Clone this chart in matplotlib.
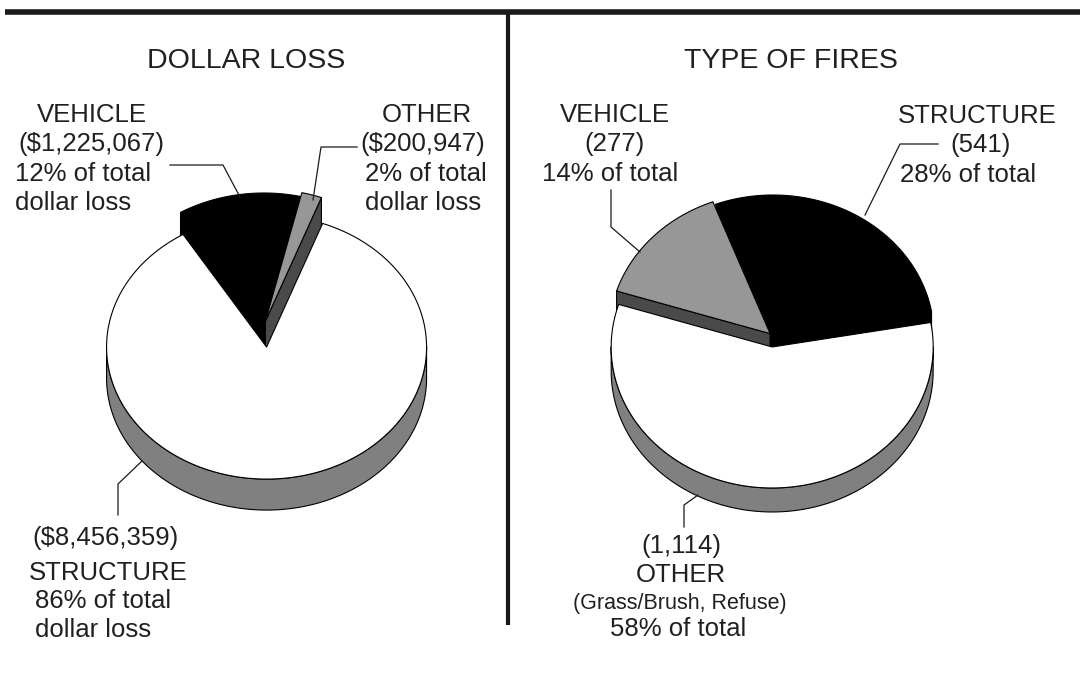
import numpy as np
import matplotlib
matplotlib.use("Agg")
import matplotlib.pyplot as plt
from matplotlib.patches import Polygon

plt.rcParams['font.family'] = ['Liberation Sans', 'DejaVu Sans']

# ---------------- data ----------------
categories = ["STRUCTURE", "VEHICLE", "OTHER"]
dollar_loss = [8456359, 1225067, 200947]
fire_counts = [541, 277, 1114]

TXT = "#231f20"

fig = plt.figure(figsize=(10.84, 6.85), dpi=100)
ax = fig.add_axes([0, 0, 1, 1])
ax.set_xlim(0, 1084)
ax.set_ylim(685, 0)
ax.axis("off")


def draw_pie3d(ax, values, order, tops, sides, start, cx, cy, rx, ry, depth, explode):
    vals = np.array([values[i] for i in order], dtype=float)
    fr = vals / vals.sum()
    bounds = start + 360.0 * np.concatenate([[0], np.cumsum(fr)])
    slices = []
    for k in range(len(vals)):
        a0, a1 = bounds[k], bounds[k + 1]
        mid = np.radians((a0 + a1) / 2)
        e = explode[k]
        ox, oy = e * rx * np.cos(mid), -e * ry * np.sin(mid)
        slices.append((np.sin(mid), k, a0, a1, ox, oy))
    slices.sort(key=lambda s: -s[0])
    z = 2
    for _, k, a0, a1, ox, oy in slices:
        Cx, Cy = cx + ox, cy + oy

        def pt(t, dz=0.0):
            r = np.radians(t)
            return (Cx + rx * np.cos(r), Cy - ry * np.sin(r) + dz)

        kw = dict(edgecolor="black", linewidth=0.8, joinstyle="round")
        # radial faces
        if np.cos(np.radians(a0)) > 1e-6:
            quad = [(Cx, Cy), pt(a0), pt(a0, depth), (Cx, Cy + depth)]
            ax.add_patch(Polygon(quad, closed=True, facecolor=sides[k], zorder=z, **kw))
        if np.cos(np.radians(a1)) < -1e-6:
            quad = [(Cx, Cy), pt(a1), pt(a1, depth), (Cx, Cy + depth)]
            ax.add_patch(Polygon(quad, closed=True, facecolor=sides[k], zorder=z, **kw))
        z += 1
        # outer (front) side
        for m in range(-1, 3):
            lo = max(a0, 180 + 360 * m)
            hi = min(a1, 360 + 360 * m)
            if hi > lo:
                ts = np.linspace(lo, hi, 120)
                poly = [pt(t) for t in ts] + [pt(t, depth) for t in ts[::-1]]
                ax.add_patch(Polygon(poly, closed=True, facecolor=sides[k], zorder=z, **kw))
        z += 1
        # top face
        ts = np.linspace(a0, a1, 240)
        poly = [(Cx, Cy)] + [pt(t) for t in ts]
        ax.add_patch(Polygon(poly, closed=True, facecolor=tops[k], zorder=z, **kw))
        z += 1


# style lookup by category
TOP = {"left": {"STRUCTURE": "white", "VEHICLE": "black", "OTHER": "#979797"},
       "right": {"STRUCTURE": "black", "VEHICLE": "#979797", "OTHER": "white"}}
SIDE = {"left": {"STRUCTURE": "#808080", "VEHICLE": "black", "OTHER": "#4a4a4a"},
        "right": {"STRUCTURE": "black", "VEHICLE": "#4a4a4a", "OTHER": "#808080"}}

# Left pie: counter-clockwise OTHER, VEHICLE, STRUCTURE
order_l = [2, 1, 0]
draw_pie3d(ax, dollar_loss, order_l,
           [TOP["left"][categories[i]] for i in order_l],
           [SIDE["left"][categories[i]] for i in order_l],
           start=69.5, cx=264, cy=325, rx=160, ry=132, depth=31,
           explode=[0.03, 0.0, 0.168])

# Right pie: counter-clockwise STRUCTURE, VEHICLE, OTHER
order_r = [0, 1, 2]
draw_pie3d(ax, fire_counts, order_r,
           [TOP["right"][categories[i]] for i in order_r],
           [SIDE["right"][categories[i]] for i in order_r],
           start=10.0, cx=773, cy=336, rx=161, ry=141, depth=24,
           explode=[0.0, 0.025, 0.078])

# ---------------- frame lines ----------------
ax.plot([5, 1080], [12, 12], color="#1a1a1a", lw=4.0, solid_capstyle="butt", zorder=10)
ax.plot([508, 508], [12, 625], color="#1a1a1a", lw=3.0, solid_capstyle="butt", zorder=10)

# ---------------- titles ----------------
ax.text(246, 68, "DOLLAR LOSS", ha="center", va="baseline", fontsize=20.5, color=TXT)
ax.text(791, 68, "TYPE OF FIRES", ha="center", va="baseline", fontsize=20.5, color=TXT)

FS = 18.5
tot_l = sum(dollar_loss)
tot_r = sum(fire_counts)
pct_l = [round(100 * v / tot_l) for v in dollar_loss]
pct_r = [round(100 * v / tot_r) for v in fire_counts]


def lines(items):
    for x, y, s in items:
        ax.text(x, y, s, ha="left", va="baseline", fontsize=FS, color=TXT, zorder=12)


# left labels
lines([(37, 122, categories[1]),
       (18, 151, f"(${dollar_loss[1]:,})"),
       (15, 181, f"{pct_l[1]}% of total"),
       (15, 210, "dollar loss")])
lines([(382, 122, categories[2]),
       (360, 151, f"(${dollar_loss[2]:,})"),
       (365, 181, f"{pct_l[2]}% of total"),
       (365, 210, "dollar loss")])
lines([(32, 545, f"(${dollar_loss[0]:,})"),
       (29, 580, categories[0]),
       (35, 608, f"{pct_l[0]}% of total"),
       (35, 637, "dollar loss")])


# right labels
def cline(x, y, s, fs=FS):
    ax.text(x, y, s, ha="center", va="baseline", fontsize=fs, color=TXT, zorder=12)


cline(615, 122, categories[1])
cline(615, 151, f"({fire_counts[1]:,})")
cline(610, 181, f"{pct_r[1]}% of total")

lines([(898, 123, categories[0]),
       (950, 152, f"({fire_counts[0]:,})"),
       (900, 182, f"{pct_r[0]}% of total")])

cline(681, 553, f"({fire_counts[2]:,})")
cline(681, 582, categories[2])
cline(680, 609, "(Grass/Brush, Refuse)", fs=15.5)
cline(678, 636, f"{pct_r[2]}% of total")

# ---------------- leader lines ----------------
LK = dict(color="#1a1a1a", lw=0.9, zorder=11)
ax.plot([170, 223, 240], [165, 165, 197], **LK)
ax.plot([357, 321, 313], [147, 147, 200], **LK)
ax.plot([118, 118, 142], [515, 484, 461], **LK)
ax.plot([611, 611, 640], [190, 227, 252], **LK)
ax.plot([938, 900, 865], [144, 144, 215], **LK)
ax.plot([684, 684, 698], [527, 505, 495], **LK)

fig.savefig("out.png", dpi=100)
